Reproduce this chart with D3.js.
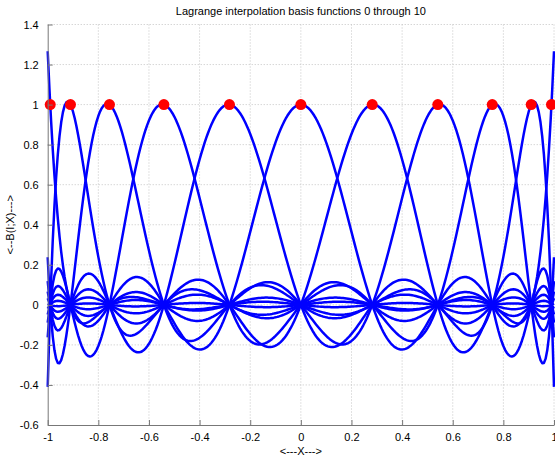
<!DOCTYPE html>
<html><head><meta charset="utf-8">
<script src="https://cdn.jsdelivr.net/npm/d3@7"></script>
<style>body{margin:0;background:#fff}svg{display:block}text{font-family:"Liberation Sans",Arial,sans-serif}</style>
</head><body>
<svg id="c" width="555" height="458"></svg>
<script>
// Interpolation nodes
const nodes = [-0.990, -0.910, -0.756, -0.541, -0.282, 0.0, 0.282, 0.541, 0.756, 0.910, 0.990];
const xTicks = [-1, -0.8, -0.6, -0.4, -0.2, 0, 0.2, 0.4, 0.6, 0.8, 1];
const yTicks = [-0.6, -0.4, -0.2, 0, 0.2, 0.4, 0.6, 0.8, 1, 1.2, 1.4];
const xTickLabels = ["-1","-0.8","-0.6","-0.4","-0.2","0","0.2","0.4","0.6","0.8","1"];
const yTickLabels = ["-0.6","-0.4","-0.2","0","0.2","0.4","0.6","0.8","1","1.2","1.4"];
const title = "Lagrange interpolation basis functions 0 through 10";
const xLabel = "<---X--->";
const yLabel = "<--B(I;X)--->";

const svg = d3.select("#c");
const L = 47.7, R = 554, T = 24.5, B = 425;
const x = d3.scaleLinear().domain([-1, 1]).range([L, R]);
const y = d3.scaleLinear().domain([-0.6, 1.4]).range([B, T]);

// grid
const g = svg.append("g");
g.selectAll(".gx").data(xTicks.slice(1)).enter().append("line")
  .attr("x1", d => x(d)).attr("x2", d => x(d)).attr("y1", T).attr("y2", B)
  .attr("stroke", "#c4c4c4").attr("stroke-width", 1).attr("stroke-dasharray", "1,2");
g.selectAll(".gy").data(yTicks.slice(1)).enter().append("line")
  .attr("y1", d => y(d)).attr("y2", d => y(d)).attr("x1", L).attr("x2", R)
  .attr("stroke", "#c4c4c4").attr("stroke-width", 1).attr("stroke-dasharray", "1,2");

// Lagrange basis functions evaluated on the nodes
const xs = d3.range(0, 301).map(i => -1 + 2 * i / 300);
function basis(j, t) {
  let p = 1;
  for (let k = 0; k < nodes.length; k++) if (k !== j) p *= (t - nodes[k]) / (nodes[j] - nodes[k]);
  return p;
}
const line = d3.line().x(d => x(d[0])).y(d => y(d[1]));
svg.append("defs").append("clipPath").attr("id", "clip").append("rect")
  .attr("x", L - 2).attr("y", T - 20).attr("width", R - L + 4).attr("height", B - T + 20);
const curves = svg.append("g").attr("clip-path", "url(#clip)");
nodes.forEach((n, j) => {
  curves.append("path").datum(xs.map(t => [t, basis(j, t)]))
    .attr("d", line).attr("fill", "none").attr("stroke", "#0000ff")
    .attr("stroke-width", 2.5).attr("stroke-linejoin", "round");
});
svg.selectAll(".pt").data(nodes).enter().append("circle")
  .attr("cx", d => x(d)).attr("cy", y(1)).attr("r", 5.5).attr("fill", "#ff0000");

// axes
const xAxis = d3.axisBottom(x).tickValues(xTicks).tickFormat((d, i) => xTickLabels[i]).tickSizeInner(-5).tickSizeOuter(0).tickPadding(9);
const yAxis = d3.axisLeft(y).tickValues(yTicks).tickFormat((d, i) => yTickLabels[i]).tickSizeInner(-5).tickSizeOuter(0).tickPadding(9);
const ax = svg.append("g").attr("transform", `translate(0,${B})`).call(xAxis);
const ay = svg.append("g").attr("transform", `translate(${L},0)`).call(yAxis);
[ax, ay].forEach(a => {
  a.select(".domain").attr("stroke", "#777");
  a.selectAll(".tick line").attr("stroke", "#777");
  a.selectAll("text").attr("font-size", 11).attr("fill", "#000")
    .attr("font-family", '"Liberation Sans",Arial,sans-serif');
});
ax.selectAll("text").attr("dy", "0.6em");

svg.append("text").attr("x", (L + R) / 2).attr("y", 15).attr("text-anchor", "middle")
  .attr("font-size", 11).text(title);
svg.append("text").attr("x", (L + R) / 2).attr("y", 455).attr("text-anchor", "middle")
  .attr("font-size", 11).text(xLabel);
svg.append("text").attr("transform", `translate(14,${(T + B) / 2}) rotate(-90)`)
  .attr("text-anchor", "middle").attr("font-size", 11).text(yLabel);
</script>
</body></html>
